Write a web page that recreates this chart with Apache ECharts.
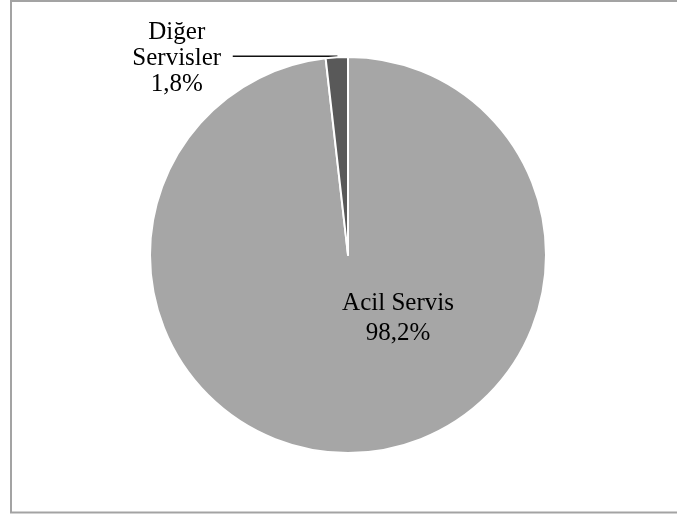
<!DOCTYPE html>
<html>
<head>
<meta charset="utf-8">
<script src="https://cdn.jsdelivr.net/npm/echarts@6/dist/echarts.min.js"></script>
<style>
  html, body { margin: 0; padding: 0; background: #ffffff; }
  #chart { width: 677px; height: 515px; }
</style>
</head>
<body>
<div id="chart"></div>
<script>
// Share of cases by service (percent)
const categories = ['Acil Servis', 'Diğer Servisler'];
const values = [98.2, 1.8];
const sliceColors = ['#a6a6a6', '#595959'];

const CX = 348, CY = 255;
const serif = "'Liberation Serif', 'Times New Roman', serif";

function pct(v) {
  return String(v).replace('.', ',') + '%';
}

const data = categories.map(function (name, i) {
  const item = { name: name, value: values[i], itemStyle: { color: sliceColors[i] } };
  if (i === 0) {
    item.label = {
      position: 'inside',
      formatter: function (p) { return p.name + '\n' + pct(p.value); },
      fontSize: 25,
      lineHeight: 30
    };
    item.labelLine = { show: false };
  } else {
    item.label = {
      position: 'outside',
      formatter: function (p) {
        const words = p.name.split(' ');
        return words.map(function (w) { return '{t|' + w + '}'; }).join('\n') + '\n{t|' + pct(p.value) + '}';
      },
      distanceToLabelLine: 6,
      padding: [4, 0, 0, 0],
      rich: {
        t: { width: 100, align: 'center', fontSize: 25, lineHeight: 26, fontFamily: serif, color: '#000000' }
      }
    };
    item.labelLine = {
      show: true,
      length: 1,
      length2: 104,
      lineStyle: { color: '#111111', width: 1.4 }
    };
  }
  return item;
});

const chart = echarts.init(document.getElementById('chart'), null, { renderer: 'canvas' });
chart.setOption({
  animation: false,
  backgroundColor: '#ffffff',
  graphic: [{
    type: 'rect',
    shape: { x: 11, y: 1, width: 700, height: 511.5 },
    style: { fill: 'none', stroke: '#a3a3a3', lineWidth: 2 },
    silent: true
  }],
  series: [{
    type: 'pie',
    center: [CX, CY],
    radius: [0, 198],
    startAngle: 90,
    clockwise: true,
    avoidLabelOverlap: false,
    itemStyle: { borderColor: '#ffffff', borderWidth: 2 },
    label: {
      color: '#000000',
      fontFamily: serif,
      fontSize: 25
    },
    labelLayout: function (params) {
      if (params.dataIndex === 0) {
        return { x: CX + 50, y: CY + 63, align: 'center', verticalAlign: 'middle' };
      }
      return {};
    },
    emphasis: { disabled: true },
    data: data
  }]
});
</script>
</body>
</html>
